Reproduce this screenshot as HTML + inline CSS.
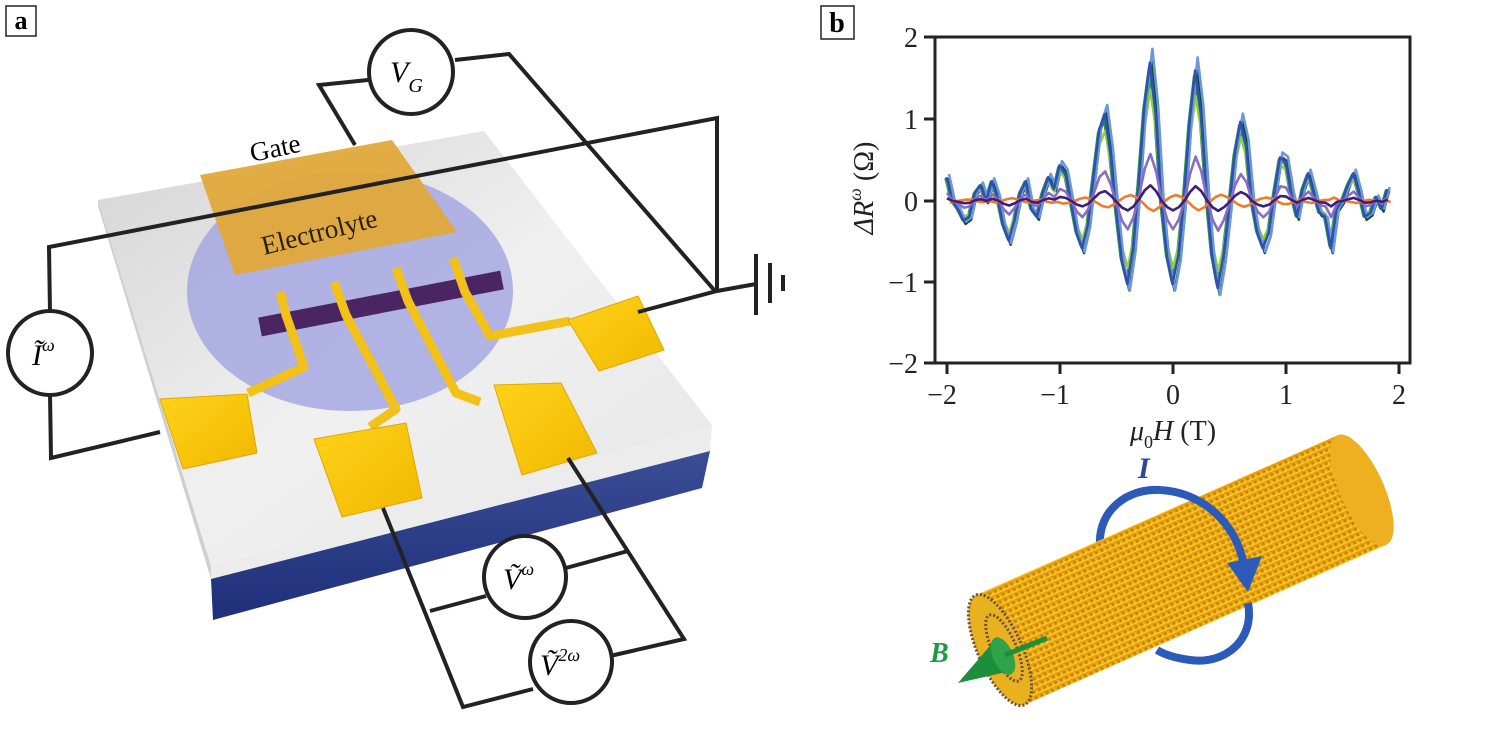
<!DOCTYPE html>
<html><head><meta charset="utf-8"><style>
html,body{margin:0;padding:0;background:#fff;overflow:hidden;}
svg{display:block;}
text{font-family:"Liberation Serif",serif;}
</style></head><body>
<svg width="1505" height="733" viewBox="0 0 1505 733" xmlns="http://www.w3.org/2000/svg" xmlns:xlink="http://www.w3.org/1999/xlink">
<defs>
<linearGradient id="top" x1="0" y1="0" x2="1" y2="1">
<stop offset="0" stop-color="#d4d4d4"/><stop offset="0.5" stop-color="#f0f0f0"/><stop offset="1" stop-color="#e6e6e6"/></linearGradient>
<linearGradient id="blue" x1="0" y1="0" x2="0" y2="1"><stop offset="0" stop-color="#3a4d95"/><stop offset="1" stop-color="#1f2f7a"/></linearGradient>
<linearGradient id="gold" x1="0" y1="0" x2="1" y2="1"><stop offset="0" stop-color="#ffd21a"/><stop offset="1" stop-color="#f2b800"/></linearGradient>
<linearGradient id="tube" x1="0" y1="0" x2="0.3" y2="1"><stop offset="0" stop-color="#e08a10"/><stop offset="0.5" stop-color="#f0a818"/><stop offset="1" stop-color="#f7d21a"/></linearGradient>
<pattern id="dots" width="6" height="6" patternUnits="userSpaceOnUse" patternTransform="rotate(-24)">
<rect width="6" height="6" fill="url(#tube)"/><circle cx="3" cy="3" r="1.6" fill="#9a5a10" opacity="0.5"/></pattern>
<path id="main" fill="none" stroke-width="2.6" stroke-linejoin="round" vector-effect="non-scaling-stroke" d="M947.0,176.5 L952.7,201 L958.3,209.2 L964.0,221.4 L969.6,217.3 L975.3,192.9 L980.9,184.7 L986.6,201 L992.2,180.6 L997.9,196.9 L1003.5,225.5 L1009.2,241.8 L1014.8,221.4 L1020.5,192.9 L1026.1,180.6 L1031.8,209.2 L1037.4,217.3 L1043.1,192.9 L1048.7,176.5 L1054.4,188.8 L1060.0,164.3 L1065.7,172.5 L1071.3,201 L1077.0,233.6 L1082.6,249.9 L1088.3,225.5 L1093.9,176.5 L1099.6,127.7 L1105.2,111.4 L1110.9,152.1 L1116.5,209.2 L1122.2,262.1 L1127.8,286.6 L1133.5,249.9 L1139.1,184.7 L1144.8,103.2 L1150.4,58.4 L1156.1,111.4 L1161.7,201 L1167.4,258.1 L1173.0,286.6 L1178.7,258.1 L1184.3,201 L1190.0,119.5 L1195.6,66.5 L1201.3,111.4 L1206.9,192.9 L1212.6,258.1 L1218.2,290.7 L1223.9,258.1 L1229.5,209.2 L1235.2,152.1 L1240.8,119.5 L1246.5,143.9 L1252.1,201 L1257.8,233.6 L1263.4,249.9 L1269.1,233.6 L1274.7,192.9 L1280.4,156.2 L1286.0,160.3 L1291.7,192.9 L1297.3,217.3 L1303.0,188.8 L1308.6,172.5 L1314.3,192.9 L1319.9,213.2 L1325.6,217.3 L1331.2,249.9 L1336.9,209.2 L1342.5,201 L1348.2,184.7 L1353.8,172.5 L1359.5,192.9 L1365.1,217.3 L1370.8,213.2 L1376.4,196.9 L1382.1,209.2 L1387.7,188.8"/>
</defs>

<!-- panel labels -->
<rect x="6" y="6" width="30" height="30" fill="#fff" stroke="#222" stroke-width="1.5"/>
<text x="21" y="29" font-size="26" font-weight="bold" text-anchor="middle">a</text>
<rect x="821" y="6" width="33" height="33" fill="#fff" stroke="#222" stroke-width="1.5"/>
<text x="837" y="32" font-size="28" font-weight="bold" text-anchor="middle">b</text>

<!-- slab -->
<polygon points="98,200 484,131 712,425 211,566" fill="url(#top)"/>
<polygon points="211,566 712,425 710,451 211,579" fill="#ececec"/>
<polygon points="211,579 710,451 702,488 213,620" fill="url(#blue)"/>
<polygon points="98,200 211,566 211,579 98,206" fill="#cfcfcf"/>
<ellipse cx="350" cy="291" rx="163" ry="120" fill="#a0a4e0" opacity="0.8"/>
<polygon points="200,175 392,140 457,232 235,275" fill="#e0a93a" opacity="0.95"/>
<text x="0" y="0" font-size="27" transform="translate(252,162) rotate(-12)">Gate</text>
<text x="0" y="0" font-size="27" fill="#2a2010" transform="translate(264,255) rotate(-14)">Electrolyte</text>
<line x1="260" y1="327" x2="502" y2="280" stroke="#4b2563" stroke-width="19"/>
<g fill="none" stroke="#f2c21a" stroke-width="9" stroke-linejoin="round">
<polyline points="280,292 286,315 304,367 248,393"/>
<polyline points="334,282 346,315 396,409 370,427"/>
<polyline points="396,268 408,301 456,393 480,402"/>
<polyline points="453,258 465,292 490,336 570,321"/>
</g>
<polygon points="160,399 247,394 257,453 183,469" fill="url(#gold)" stroke="#e0a800"/>
<polygon points="314,439 406,423 422,498 342,517" fill="url(#gold)" stroke="#e0a800"/>
<polygon points="494,385 561,383 597,453 522,475" fill="url(#gold)" stroke="#e0a800"/>
<polygon points="568,320 638,296 664,350 599,371" fill="url(#gold)" stroke="#e0a800"/>

<g fill="none" stroke="#222" stroke-width="4" stroke-linejoin="miter">
<polyline points="368,80 319,85 355,145"/>
<polyline points="455,60 509,54 715,291"/>
<polyline points="50,312 49,247 717,118 717,291"/>
<polyline points="638,312 717,291 756,284"/>
<polyline points="50,394 51,458 160,432"/>
<polyline points="383,508 463,707 533,689"/>
<polyline points="610,656 684,639 568,458"/>
<polyline points="430,611 486,596"/>
<polyline points="566,568 628,551"/>
</g>
<g stroke="#222" stroke-width="4">
<line x1="756" y1="254" x2="756" y2="315"/>
<line x1="770" y1="263" x2="770" y2="303"/>
<line x1="783" y1="275" x2="783" y2="291"/>
</g>
<g fill="#fff" stroke="#222" stroke-width="4">
<circle cx="411" cy="72" r="42"/>
<circle cx="50" cy="353" r="42"/>
<circle cx="525" cy="577" r="41"/>
<circle cx="571" cy="662" r="41"/>
</g>
<text x="390" y="82" font-size="30" font-style="italic">V<tspan font-size="20" dy="10">G</tspan></text>
<text x="32" y="365" font-size="30" font-style="italic">Ĩ<tspan font-size="18" dy="-14">ω</tspan></text>
<text x="503" y="589" font-size="30" font-style="italic">Ṽ<tspan font-size="18" dy="-14">ω</tspan></text>
<text x="540" y="675" font-size="30" font-style="italic">Ṽ<tspan font-size="18" dy="-14">2ω</tspan></text>

<!-- chart curves -->
<use xlink:href="#main" href="#main" stroke="#0b4a34" transform="translate(1.5,201) scale(1,1.02) translate(0,-199)"/>
<use xlink:href="#main" href="#main" stroke="#2f9a45" transform="translate(-1.5,201) scale(1,0.93) translate(0,-201)"/>
<use xlink:href="#main" href="#main" stroke="#8fd13c" transform="translate(0,201) scale(1,0.78) translate(0,-201)"/>
<use xlink:href="#main" href="#main" stroke="#6a98d8" transform="translate(2,201) scale(1,1.06) translate(0,-202)"/>
<use xlink:href="#main" href="#main" stroke="#3050b0" transform="translate(-0.5,201) scale(1,0.97) translate(0,-201)"/>
<use xlink:href="#main" href="#main" stroke="#8a6cc4" transform="translate(0,201) scale(1,0.33) translate(0,-201)"/>
<use xlink:href="#main" href="#main" stroke="#f07a2a" transform="translate(3,201) scale(1,-0.07) translate(0,-201)"/>
<use xlink:href="#main" href="#main" stroke="#3b1f7a" transform="translate(0,201) scale(1,0.11) translate(0,-201)"/>

<rect x="935" y="37" width="475" height="326" fill="none" stroke="#222" stroke-width="3"/>
<g stroke="#222" stroke-width="3">
<line x1="924" y1="37" x2="935" y2="37"/><line x1="924" y1="119" x2="935" y2="119"/>
<line x1="924" y1="201" x2="935" y2="201"/><line x1="924" y1="282" x2="935" y2="282"/>
<line x1="924" y1="363" x2="935" y2="363"/>
<line x1="947" y1="363" x2="947" y2="374"/><line x1="1060" y1="363" x2="1060" y2="374"/>
<line x1="1173" y1="363" x2="1173" y2="374"/><line x1="1286" y1="363" x2="1286" y2="374"/>
<line x1="1399" y1="363" x2="1399" y2="374"/>
</g>
<g font-size="28" text-anchor="end" fill="#222">
<text x="918" y="47">2</text><text x="918" y="129">1</text><text x="918" y="211">0</text>
<text x="918" y="292">−1</text><text x="918" y="373">−2</text>
</g>
<g font-size="28" text-anchor="middle" fill="#222">
<text x="942" y="404">−2</text><text x="1055" y="404">−1</text><text x="1173" y="404">0</text>
<text x="1286" y="404">1</text><text x="1399" y="404">2</text>
</g>
<text x="1173" y="440" font-size="28" text-anchor="middle" fill="#222"><tspan font-style="italic">μ</tspan><tspan font-size="18" dy="8">0</tspan><tspan font-style="italic" dy="-8">H</tspan> (T)</text>
<text font-size="28" text-anchor="middle" fill="#222" transform="translate(873,188) rotate(-90)"><tspan font-style="italic">ΔR</tspan><tspan font-size="18" font-style="italic" dy="-12">ω</tspan><tspan dy="12"> (Ω)</tspan></text>

<!-- nanotube illustration -->
<path d="M1100,545 C1098,510 1128,488 1160,490" fill="none" stroke="#2c5ab8" stroke-width="8"/>
<polygon points="976,595 1338,435 1386,545 1024,705" fill="url(#dots)"/>
<ellipse cx="1362" cy="490" rx="22" ry="60" transform="rotate(-24 1362 490)" fill="#eeb020"/>
<ellipse cx="1000" cy="650" rx="22" ry="60" transform="rotate(-24 1000 650)" fill="#e9b020" stroke="#6a5040" stroke-width="3" stroke-dasharray="2 2"/>
<ellipse cx="1004" cy="648" rx="12" ry="36" transform="rotate(-24 1004 648)" fill="none" stroke="#6a5040" stroke-width="3" stroke-dasharray="2 2"/>
<path d="M1160,490 C1200,492 1235,520 1244,565" fill="none" stroke="#2c5ab8" stroke-width="8"/>
<polygon points="1227,563 1262,556 1248,592" fill="#2c5ab8"/>
<path d="M1248,603 C1255,640 1225,665 1190,660 C1175,658 1165,655 1157,650" fill="none" stroke="#2c5ab8" stroke-width="8"/>
<text x="1138" y="478" font-size="30" font-weight="bold" font-style="italic" fill="#2a46a0">I</text>
<polygon points="958,683 995,640 1015,670" fill="#1d8f3a"/>
<ellipse cx="1003" cy="656" rx="10" ry="20" transform="rotate(-24 1003 656)" fill="#2fa34a"/>
<line x1="1005" y1="655" x2="1047" y2="638" stroke="#1d8f3a" stroke-width="5"/>
<text x="930" y="662" font-size="28" font-weight="bold" font-style="italic" fill="#1d9a44">B</text>
</svg>
</body></html>
